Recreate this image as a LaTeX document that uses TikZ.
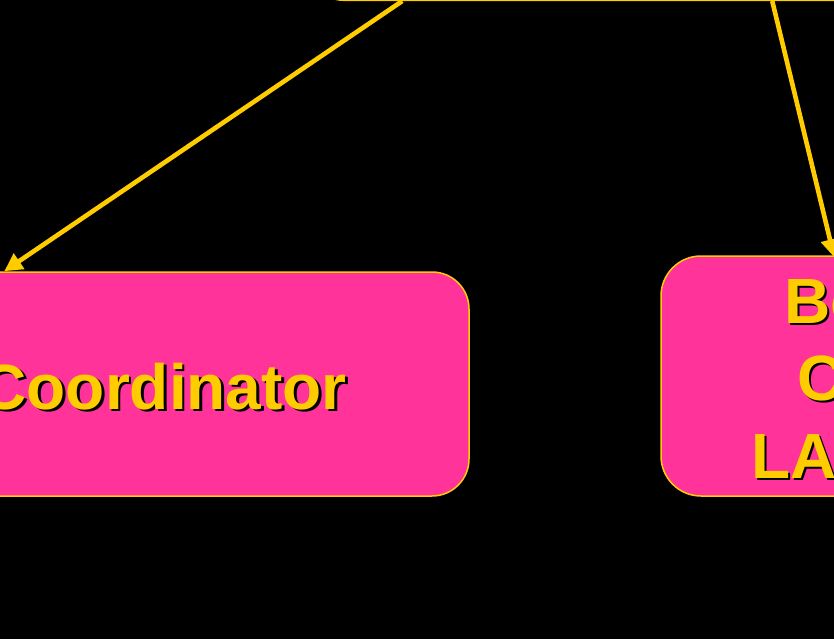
\documentclass[tikz,border=0pt]{standalone}
\usepackage{fontspec}
\setmainfont{Liberation Sans}
\usetikzlibrary{arrows.meta,calc}
\definecolor{gold}{HTML}{FFCC00}
\definecolor{hotpink}{HTML}{FF3399}
\begin{document}
\begin{tikzpicture}[x=1pt,y=-1pt,
  box/.style={draw=gold, line width=1.5pt, fill=hotpink, rounded corners=37pt, inner sep=0pt},
  lbl/.style={font=\bfseries\fontsize{64}{77}\selectfont, text=gold, inner sep=0pt},
  shd/.style={lbl, text=black},
  link/.style={draw=gold, line width=4.6pt, -{Triangle[length=18pt,width=18pt]}}]
\fill[black] (0,0) rectangle (834,639);
\useasboundingbox (0,0) rectangle (834,639);
\clip (0,0) rectangle (834,639);
% boxes
\node[box, minimum width=693pt, minimum height=200.6pt] (top) at (653.5,-100) {};
\node[box, minimum width=594pt, minimum height=224pt] (coord) at (172,384) {};
\node[box, minimum width=400pt, minimum height=240pt, rounded corners=40pt] (board) at (861,376) {};
% texts with shadows
\node[shd, anchor=base east] (ctextS) at (349.5,411.5) {Coordinator};
\node[lbl, anchor=base east] (ctext) at (347,409) {Coordinator};
\node[shd, anchor=base west] (b1S) at (786.5,325.5) {Board};
\node[lbl, anchor=base west] (b1) at (784,323) {Board};
\node[shd, anchor=base west] (b2S) at (799.5,402.5) {Club};
\node[lbl, anchor=base west] (b2) at (797,400) {Club};
\node[shd, anchor=base west] (b3S) at (753.5,480.5) {LAN};
\node[lbl, anchor=base west] (b3) at (751,478) {LAN};
% connectors
\draw[link] ($(top.south west)+(96,0)$) -- ($(coord.north west)+(130,0)$);
\draw[link] ($(top.south west)+(466,0)$) -- ($(board.north west)+(174,2)$);
\end{tikzpicture}
\end{document}
